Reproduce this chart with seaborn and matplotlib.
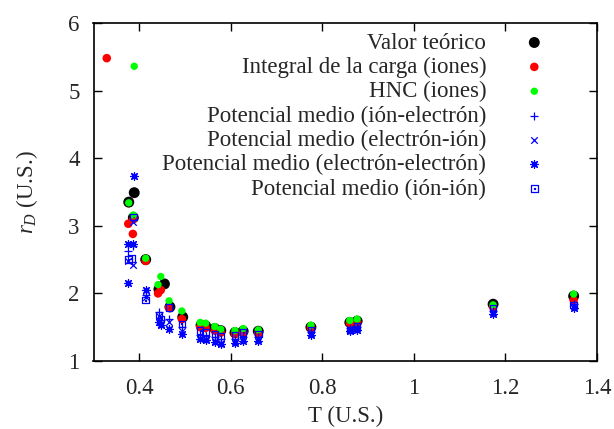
import matplotlib
matplotlib.use("Agg")
import matplotlib.pyplot as plt
from matplotlib.path import Path
from matplotlib.ticker import FormatStrFormatter
import seaborn as sns
import numpy as np

# ---------------- data ----------------
T_teo = [0.377, 0.389, 0.387, 0.414, 0.455, 0.443, 0.467, 0.495, 0.535, 0.545, 0.565, 0.578,
         0.609, 0.627, 0.660, 0.775, 0.860, 0.876, 1.173, 1.349]
r_teo = [3.35, 3.49, 3.12, 2.50, 2.14, 2.06, 1.80, 1.65, 1.53, 1.52, 1.48, 1.45,
         1.42, 1.44, 1.44, 1.50, 1.57, 1.59, 1.84, 1.96]

T_int = [0.329, 0.376, 0.386, 0.387, 0.414, 0.441, 0.447, 0.465, 0.493, 0.533, 0.545, 0.565,
         0.578, 0.609, 0.627, 0.660, 0.775, 0.860, 0.876, 1.173, 1.349]
r_int = [5.48, 3.03, 2.88, 3.10, 2.48, 2.00, 2.05, 1.79, 1.62, 1.50, 1.49, 1.45,
         1.42, 1.40, 1.42, 1.41, 1.49, 1.56, 1.57, 1.80, 1.90]

T_hnc = [0.389, 0.377, 0.387, 0.414, 0.441, 0.447, 0.465, 0.493, 0.533, 0.545, 0.565,
         0.578, 0.609, 0.627, 0.660, 0.775, 0.860, 0.876, 1.173, 1.349]
r_hnc = [5.36, 3.34, 3.16, 2.52, 2.13, 2.25, 1.89, 1.74, 1.57, 1.56, 1.51,
         1.47, 1.45, 1.48, 1.46, 1.53, 1.60, 1.62, 1.83, 1.99]

T_ie = [0.376, 0.387, 0.414, 0.443, 0.447, 0.465, 0.493, 0.533, 0.545, 0.565, 0.578,
        0.609, 0.627, 0.660, 0.775, 0.860, 0.876, 1.173, 1.349]
r_ie = [2.62, 2.70, 1.97, 1.72, 1.60, 1.62, 1.50, 1.38, 1.37, 1.35, 1.32,
        1.33, 1.36, 1.36, 1.43, 1.49, 1.51, 1.74, 1.84]

T_ei = [0.376, 0.387, 0.387, 0.414, 0.443, 0.447, 0.465, 0.493, 0.533, 0.545, 0.565, 0.578,
        0.609, 0.627, 0.660, 0.775, 0.860, 0.876, 1.173, 1.349]
r_ei = [2.48, 2.42, 3.05, 1.95, 1.66, 1.55, 1.58, 1.45, 1.34, 1.33, 1.30, 1.27,
        1.30, 1.33, 1.33, 1.41, 1.47, 1.49, 1.72, 1.82]

T_ee = [0.376, 0.376, 0.387, 0.389, 0.414, 0.443, 0.447, 0.465, 0.493, 0.533, 0.545, 0.565,
        0.578, 0.609, 0.627, 0.660, 0.775, 0.860, 0.876, 1.173, 1.349]
r_ee = [2.73, 2.16, 2.73, 3.74, 2.05, 1.58, 1.53, 1.48, 1.40, 1.32, 1.31, 1.28,
        1.25, 1.27, 1.29, 1.30, 1.38, 1.44, 1.46, 1.69, 1.78]

T_ii = [0.376, 0.383, 0.387, 0.414, 0.443, 0.447, 0.465, 0.493, 0.533, 0.545, 0.565, 0.578,
        0.609, 0.627, 0.660, 0.775, 0.860, 0.876, 1.173, 1.349]
r_ii = [2.50, 2.52, 3.13, 1.90, 1.68, 1.62, 1.79, 1.55, 1.45, 1.43, 1.40, 1.37,
        1.38, 1.42, 1.40, 1.46, 1.46, 1.52, 1.78, 1.83]

labels = ["Valor teórico", "Integral de la carga (iones)", "HNC (iones)",
          "Potencial medio (ión-electrón)", "Potencial medio (electrón-ión)",
          "Potencial medio (electrón-electrón)", "Potencial medio (ión-ión)"]
x_ticks = [0.4, 0.6, 0.8, 1.0, 1.2, 1.4]
y_ticks = [1, 2, 3, 4, 5, 6]

# ---------------- style ----------------
sns.set_style("ticks")
plt.rcParams["font.family"] = ["Liberation Serif", "DejaVu Serif"]
plt.rcParams["mathtext.fontset"] = "custom"
plt.rcParams["mathtext.rm"] = "Liberation Serif"
plt.rcParams["mathtext.it"] = "Liberation Serif:italic"
plt.rcParams["xtick.direction"] = "in"
plt.rcParams["ytick.direction"] = "in"

fig = plt.figure(figsize=(6.14, 4.29), dpi=100)
ax = fig.add_axes([93.5 / 614, 1 - 361 / 429, (597 - 93.5) / 614, (361 - 23) / 429])

boxdot = Path([(-1, -1), (1, -1), (1, 1), (-1, 1), (-1, -1),
               (-0.12, -0.12), (0.12, -0.12), (0.12, 0.12), (-0.12, 0.12), (-0.12, -0.12)],
              [Path.MOVETO, Path.LINETO, Path.LINETO, Path.LINETO, Path.CLOSEPOLY,
               Path.MOVETO, Path.LINETO, Path.LINETO, Path.LINETO, Path.CLOSEPOLY])

sns.scatterplot(x=T_teo, y=r_teo, ax=ax, marker="o", s=62, color="black", edgecolor="none",
                linewidth=0, label=labels[0])
sns.scatterplot(x=T_int, y=r_int, ax=ax, marker="o", s=38, color="#ff0000", edgecolor="none",
                linewidth=0, label=labels[1])
sns.scatterplot(x=T_hnc, y=r_hnc, ax=ax, marker="o", s=28, color="#00ff00", edgecolor="none",
                linewidth=0, label=labels[2])
sns.scatterplot(x=T_ie, y=r_ie, ax=ax, marker="+", s=30, color="#0000ff", linewidth=0.9,
                label=labels[3])
sns.scatterplot(x=T_ei, y=r_ei, ax=ax, marker="x", s=22, color="#0000ff", linewidth=0.9,
                label=labels[4])
sns.scatterplot(x=T_ee, y=r_ee, ax=ax, marker=(8, 2, 0), s=30, color="#0000ff", linewidth=0.9,
                label=labels[5])
sns.scatterplot(x=T_ii, y=r_ii, ax=ax, marker=boxdot, s=22, facecolor="none",
                edgecolor="#0000ff", linewidth=0.9, label=labels[6])

ax.set_xlim(0.3, 1.4)
ax.set_ylim(1, 6)
ax.set_xticks(x_ticks)
ax.set_yticks(y_ticks)
ax.xaxis.set_major_formatter(FormatStrFormatter("%g"))
ax.tick_params(axis="both", which="major", labelsize=16.5, length=6, width=1,
               top=True, right=True, color="black")
ax.tick_params(axis="x", pad=12)
ax.tick_params(axis="y", pad=10)
for sp in ax.spines.values():
    sp.set_visible(True)
    sp.set_linewidth(1.2)
    sp.set_color("black")

ax.set_xlabel("T (U.S.)", fontsize=16.5, labelpad=5)
ax.set_ylabel(r"$r_D$ (U.S.)", fontsize=16.5, labelpad=20)

ax.legend(loc="upper right", bbox_to_anchor=(0.921, 0.972), frameon=False,
          markerfirst=False, fontsize=16.5, handlelength=2.0, handletextpad=1.1,
          labelspacing=0.14, borderpad=0, borderaxespad=0, scatterpoints=1)

fig.savefig("out.png", dpi=100)
